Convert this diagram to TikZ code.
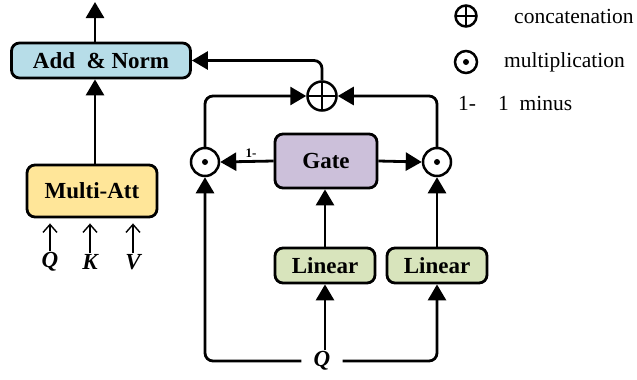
\documentclass[tikz,border=0pt]{standalone}
\usepackage{fontspec}
\setmainfont{Liberation Serif}
\usetikzlibrary{arrows.meta}
\definecolor{addblue}{HTML}{B7DDE8}
\definecolor{attyellow}{HTML}{FFE699}
\definecolor{gatepurple}{HTML}{CCC0DA}
\definecolor{lingreen}{HTML}{D8E4BC}
\tikzset{
  blk/.style={draw, line width=2.8pt, rounded corners=8pt, align=center,
    font=\fontsize{23}{26}\selectfont\bfseries, inner sep=0pt},
  conn/.style={line width=2.8pt, -{Triangle[length=16pt,width=18pt]}},
  thin arrow/.style={line width=1.4pt, -{Straight Barb[length=8pt,width=14pt,line width=1.4pt]}},
  opcirc/.style={circle, draw, line width=2.5pt, minimum size=#1, inner sep=0pt},
  oplussym/.style={opcirc=#1, path picture={
    \draw[line width=2.5pt] (path picture bounding box.north) -- (path picture bounding box.south)
      (path picture bounding box.west) -- (path picture bounding box.east);}},
  odotsym/.style={opcirc=#1, path picture={
    \fill (path picture bounding box.center) circle (3pt);}},
  vlabel/.style={font=\fontsize{23}{26}\selectfont\bfseries\itshape, inner sep=1pt},
  legend/.style={font=\fontsize{21.5}{25}\selectfont, anchor=west, inner sep=0pt}
}
\begin{document}
\begin{tikzpicture}[x=1pt, y=-1pt]
\useasboundingbox (0,0) rectangle (637,380);

% main blocks
\node[blk, fill=addblue, minimum width=179pt, minimum height=35pt] (addnorm) at (101,60.5) {Add~~\& Norm};
\node[blk, fill=attyellow, minimum width=130pt, minimum height=52pt] (multiatt) at (92,191) {Multi-Att};
\node[blk, fill=gatepurple, minimum width=102pt, minimum height=54pt] (gate) at (326,161) {Gate};
\node[blk, fill=lingreen, minimum width=100pt, minimum height=35pt] (lin1) at (325,265.5) {Linear};
\node[blk, fill=lingreen, minimum width=100pt, minimum height=35pt] (lin2) at (437,265.5) {Linear};

% operators
\node[odotsym=28pt] (mulL) at (205,162) {};
\node[odotsym=28pt] (mulR) at (437,162) {};
\node[oplussym=29pt] (cat) at (322,96) {};

% output of the block
\coordinate (top) at (95,2);
\draw[conn] (addnorm.north -| top) -- (top);
\draw[conn] (multiatt.north -| top) -- (addnorm.south -| top);

% attention inputs
\node[vlabel] (qin) at (50,262) {Q};
\node[vlabel] (kin) at (90,262) {K};
\node[vlabel] (vin) at (133,262) {V};
\draw[thin arrow, shorten >=5pt] (qin.north) -- (qin.north |- multiatt.south);
\draw[thin arrow, shorten >=5pt] (kin.north) -- (kin.north |- multiatt.south);
\draw[thin arrow, shorten >=5pt] (vin.north) -- (vin.north |- multiatt.south);

% gating branch
\node[vlabel, inner xsep=12pt] (qg) at (322,361) {Q};
\draw[conn] (lin1.south |- qg.north) -- (lin1.south);
\draw[conn, rounded corners=8pt] (qg.west) -| (mulL.south);
\draw[conn, rounded corners=8pt] (qg.east) -| (lin2.south);
\draw[conn] (lin1.north) -- (lin1.north |- gate.south);
\draw[conn] (lin2.north) -- (mulR.south);
\draw[conn] (gate.west) -- node[above, font=\fontsize{13}{15}\selectfont\bfseries, inner sep=3pt, xshift=4pt] {1-} (mulL.east);
\draw[conn] (gate.east) -- (mulR.west);
\draw[conn, rounded corners=8pt] (mulL.north) |- (cat.west);
\draw[conn, rounded corners=8pt] (mulR.north) |- (cat.east);
\draw[conn, rounded corners=8pt] (cat.north) |- (addnorm.east);

% legend
\node[oplussym=21pt] (lgcat) at (466,16) {};
\node[legend] (lgcattxt) at (514,16) {concatenation};
\node[odotsym=22pt] (lgmul) at (466,62) {};
\node[legend] (lgmultxt) at (504,62) {multiplication};
\node[legend] (lgone) at (458,103) {1-};
\node[legend] (lgonetxt) at (498,103) {1~~minus};
\end{tikzpicture}
\end{document}
